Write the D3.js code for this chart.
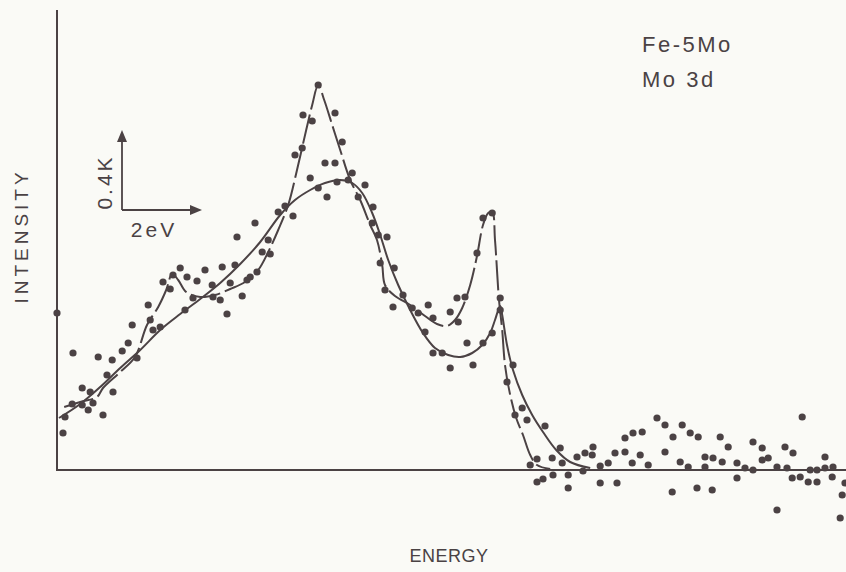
<!DOCTYPE html>
<html>
<head>
<meta charset="utf-8">
<script src="https://cdn.jsdelivr.net/npm/d3@7"></script>
<style>
  html, body { margin: 0; padding: 0; background: #fafaf6; }
  svg { display: block; }
  text { font-family: "Liberation Sans", Arial, sans-serif; fill: #4a4244; }
</style>
</head>
<body>
<svg id="chart" width="846" height="572"></svg>
<script>
// Fe-5Mo, Mo 3d photoelectron spectrum: energy (eV, relative) vs intensity (counts)

// Fitted envelope with the sharp doublet (drawn dashed)
const sharpFit = [
  [0.18,315],[0.58,340],[1.0,365],[1.15,410],[1.58,490],[1.95,565],[2.25,725],[2.53,815],
  [2.73,900],[2.88,980],[3.03,950],[3.23,890],[3.58,865],[3.95,875],[4.33,905],[4.70,940],
  [5.03,1000],[5.28,1090],[5.53,1200],[5.78,1325],[6.0,1500],[6.23,1700],[6.38,1825],[6.53,1925],
  [6.68,1850],[6.88,1725],[7.08,1600],[7.33,1450],[7.58,1350],[7.83,1225],[8.0,1150],[8.13,1025],
  [8.20,925],[8.45,870],[8.83,825],[9.20,770],[9.50,730],[9.75,720],[9.95,750],[10.13,810],
  [10.33,925],[10.5,1070],[10.65,1225],[10.78,1285],[10.88,1290],[10.95,1150],[11.05,850],
  [11.13,700],[11.20,525],[11.33,375],[11.48,260],[11.65,175],[11.83,75],[12.0,25],[12.33,5]
];

// Fitted envelope of the broadened spectrum (drawn solid)
const broadFit = [
  [0.05,260],[0.58,330],[1.08,415],[1.58,510],[2.08,600],[2.58,700],[3.08,780],[3.58,855],
  [4.08,935],[4.58,1030],[5.08,1140],[5.58,1275],[5.95,1350],[6.33,1400],[6.70,1435],[7.08,1450],
  [7.38,1435],[7.63,1385],[7.88,1285],[8.08,1175],[8.28,1050],[8.53,925],[8.83,800],[9.15,685],
  [9.45,610],[9.78,575],[10.08,565],[10.38,585],[10.63,625],[10.83,685],[10.95,750],[11.08,820],
  [11.13,775],[11.25,625],[11.40,500],[11.63,375],[11.88,275],[12.15,190],[12.48,100],[12.83,40],
  [13.33,10]
];

// Measured points across the Mo 3d doublet
const doubletPoints = [
  [0.0,785],[0.15,185],[0.2,265],[0.4,585],[1.03,565],[0.38,330],[0.63,325],[0.9,335],[0.78,300],
  [1.15,275],[0.63,410],[0.83,390],[1.4,390],[1.25,475],[1.38,550],[1.63,595],[1.78,635],[2.0,560],
  [1.88,725],[2.33,750],[2.28,825],[2.4,700],[2.58,715],[2.65,940],[2.83,905],[2.9,975],[3.08,1010],
  [3.25,965],[3.5,945],[3.7,1000],[3.88,925],[4.13,1015],[4.33,935],[4.45,1025],[4.75,950],[5.0,990],
  [3.2,800],[3.4,860],[3.9,865],[4.08,850],[4.25,780],[4.63,870],[4.5,1165],[4.83,965],[4.95,1235],
  [5.13,1090],[5.28,1150],[5.33,1080],[5.53,1290],[5.7,1320],[5.9,1270],[5.95,1575],[6.13,1610],
  [6.15,1775],[6.38,1745],[6.53,1925],[6.95,1785],[7.13,1640],[6.7,1535],[6.95,1535],[6.33,1460],
  [6.53,1410],[6.75,1365],[7.0,1440],[7.28,1450],[7.38,1485],[7.7,1425],[7.53,1365],[7.9,1315],
  [7.88,1235],[8.03,1175],[8.25,1165],[8.08,1035],[8.43,1010],[8.2,900],[8.65,875],[8.4,815],
  [8.88,810],[9.03,785],[9.28,825],[9.4,760],[9.2,690],[9.4,585],[9.63,585],[9.83,510],[10.25,635],
  [10.4,525],[9.83,790],[10.0,860],[10.2,865],[10.03,740],[10.5,1085],[10.65,1260],[10.88,1285],
  [11.08,860],[11.08,800],[10.65,635],[10.88,685],[11.4,525],[11.25,440],[11.63,310],[11.45,275],
  [11.75,250],[12.2,220]
];

// Measured points on the flat tail above the doublet
const tailPoints = [
  [12.0,55],[11.83,25],[12.58,110],[12.38,60],[12.63,35],[13.0,65],[13.2,85],[13.4,115],[13.38,75],
  [13.15,-5],[13.58,20],[13.78,35],[12.0,-60],[12.15,-45],[12.4,-25],[12.78,-25],[12.78,-90],
  [13.58,-65],[14.0,-65],[13.95,85],[14.2,90],[14.2,160],[14.4,185],[14.63,190],[14.38,35],
  [14.58,75],[14.78,25],[15.0,260],[15.2,225],[15.4,165],[15.63,225],[15.83,185],[16.03,165],
  [15.2,90],[15.38,-110],[15.58,40],[15.78,15],[16.0,-90],[16.2,65],[16.4,60],[16.58,165],
  [16.63,40],[16.2,15],[16.38,-100],[16.78,115],[17.0,35],[17.0,-40],[17.2,10],[17.4,0],[17.4,140],
  [17.63,110],[17.78,60],[17.63,50],[18.0,15],[18.0,-200],[18.2,115],[18.25,10],[18.4,85],
  [18.63,265],[18.38,-40],[18.58,-35],[18.78,-60],[19.0,-60],[18.83,0],[19.0,0],[19.2,65],[19.2,10],
  [19.4,15],[19.38,-35],[19.63,-125],[19.58,-240],[19.7,-65]
];

// Scale bar: origin (eV, counts) and its lengths
const scaleOrigin = [1.625, 1300];
const scaleStep = [2, 400];
const scaleLabels = ["2eV", "0.4K"];
const titleLines = ["Fe-5Mo", "Mo 3d"];
const axisTitles = ["ENERGY", "INTENSITY"];

const ink = "#4b4244";
const svg = d3.select("#chart");

const x = d3.scaleLinear().domain([0, 19.725]).range([57, 846]);
const y = d3.scaleLinear().domain([0, 2300]).range([470, 10]);

// Axes: vertical intensity axis and the zero baseline
svg.append("line")
  .attr("x1", x(0)).attr("x2", x(0))
  .attr("y1", y(2300)).attr("y2", y(0) + 1)
  .attr("stroke", ink).attr("stroke-width", 2);
svg.append("line")
  .attr("x1", x(0)).attr("x2", x(19.725))
  .attr("y1", y(0)).attr("y2", y(0))
  .attr("stroke", ink).attr("stroke-width", 2);

const line = d3.line()
  .x(d => x(d[0])).y(d => y(d[1]))
  .curve(d3.curveCatmullRom.alpha(0.5));

svg.append("path").datum(broadFit)
  .attr("d", line).attr("fill", "none")
  .attr("stroke", ink).attr("stroke-width", 2);

svg.append("path").datum(sharpFit)
  .attr("d", line).attr("fill", "none")
  .attr("stroke", ink).attr("stroke-width", 2)
  .attr("stroke-dasharray", "30,5");

svg.append("g").selectAll("circle")
  .data(doubletPoints.concat(tailPoints))
  .join("circle")
  .attr("cx", d => x(d[0])).attr("cy", d => y(d[1]))
  .attr("r", 3.6).attr("fill", ink);

// Scale bar with arrowheads
const ox = x(scaleOrigin[0]), oy = y(scaleOrigin[1]);
const hx = x(scaleOrigin[0] + scaleStep[0]);
const vy = y(scaleOrigin[1] + scaleStep[1]);
svg.append("line").attr("x1", ox).attr("y1", oy).attr("x2", hx - 8).attr("y2", oy)
  .attr("stroke", ink).attr("stroke-width", 1.8);
svg.append("line").attr("x1", ox).attr("y1", oy).attr("x2", ox).attr("y2", vy + 8)
  .attr("stroke", ink).attr("stroke-width", 1.8);
svg.append("path")
  .attr("d", `M${hx},${oy} L${hx - 12},${oy - 5} L${hx - 12},${oy + 5} Z`)
  .attr("fill", ink);
svg.append("path")
  .attr("d", `M${ox},${vy} L${ox - 5},${vy + 12} L${ox + 5},${vy + 12} Z`)
  .attr("fill", ink);
svg.append("text")
  .attr("x", (ox + hx) / 2 - 8).attr("y", oy + 27)
  .attr("text-anchor", "middle")
  .style("font-size", "21px").style("letter-spacing", "3px")
  .text(scaleLabels[0]);
svg.append("text")
  .attr("transform", `translate(${ox - 10},${(oy + vy) / 2 + 12}) rotate(-90)`)
  .attr("text-anchor", "middle")
  .style("font-size", "21px").style("letter-spacing", "3px")
  .text(scaleLabels[1]);

// Specimen and core level
svg.selectAll(".title")
  .data(titleLines)
  .join("text")
  .attr("class", "title")
  .attr("x", 642).attr("y", (d, i) => 52 + i * 35)
  .style("font-size", "22px").style("letter-spacing", "2.5px")
  .text(d => d);

// Axis titles
svg.append("text")
  .attr("x", 449).attr("y", 562)
  .attr("text-anchor", "middle")
  .style("font-size", "18px").style("letter-spacing", "0.5px")
  .text(axisTitles[0]);
svg.append("text")
  .attr("transform", "translate(28,236) rotate(-90)")
  .attr("text-anchor", "middle")
  .style("font-size", "19px").style("letter-spacing", "4px")
  .text(axisTitles[1]);
</script>
</body>
</html>
